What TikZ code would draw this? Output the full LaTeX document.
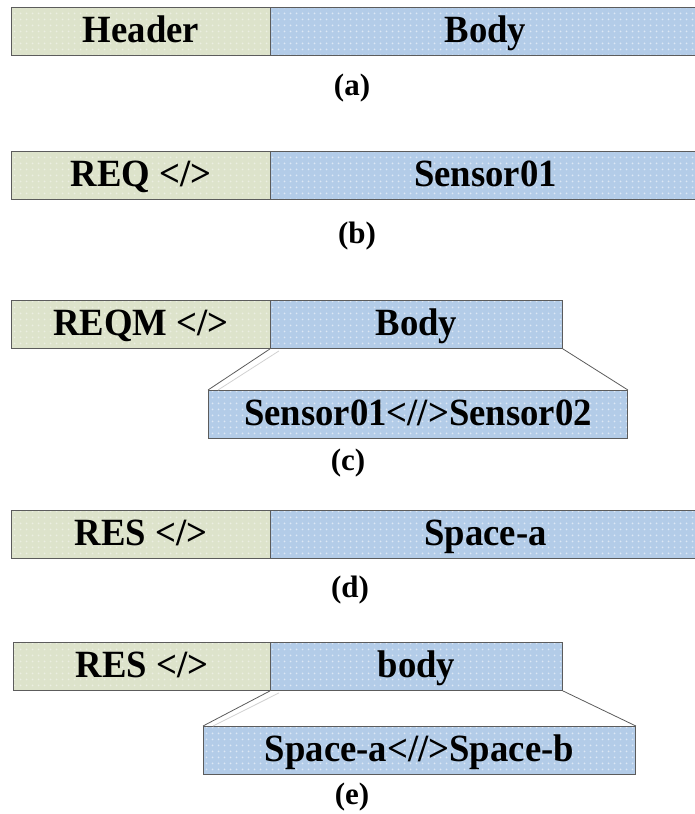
\documentclass[tikz,border=0pt]{standalone}
\usepackage{graphicx}
\usepackage{fontspec}
\setmainfont{Liberation Serif}
\usetikzlibrary{patterns.meta}

\definecolor{hdrfill}{HTML}{DDE3CB}
\definecolor{hdrdot}{HTML}{ECEFE2}
\definecolor{bodyfill}{HTML}{B3CCE8}
\definecolor{bodydot}{HTML}{DDE8F5}
\definecolor{edge}{HTML}{5C5C5C}

% small soft dot texture used inside the cells
\pgfdeclarepattern{name=softdots, type=uncolored,
  bottom left={\pgfpoint{0pt}{0pt}}, top right={\pgfpoint{6pt}{6pt}},
  tile size={\pgfpoint{6pt}{6pt}},
  code={\pgfpathcircle{\pgfpoint{3pt}{3pt}}{1.1pt}\pgfusepath{fill}}}

% slightly tall bold serif lettering
\newcommand\talltext[1]{\scalebox{1}[1.05]{#1}}
\newcommand\cellfont{\fontsize{36.7}{40}\selectfont\bfseries}
\newcommand\capfont{\fontsize{31}{34}\selectfont\bfseries}

\tikzset{
  cell/.style={draw=edge, line width=0.9pt, anchor=north west, inner sep=0pt,
    minimum height=48pt, font=\cellfont, text height=23pt, text depth=0pt},
  hdr/.style={cell, preaction={fill=hdrfill}, pattern=softdots, pattern color=hdrdot},
  bdy/.style={cell, preaction={fill=bodyfill}, pattern=softdots, pattern color=bodydot},
  caption/.style={font=\capfont, inner sep=0pt},
  zoomline/.style={draw=edge, line width=0.8pt},
  zoomshade/.style={draw=black!18, line width=0.8pt},
}

\begin{document}
\begin{tikzpicture}[x=1pt, y=-1pt]
  \useasboundingbox (0,0) rectangle (695,814);

  % (a) generic frame
  \node[hdr, minimum width=259pt] (aH) at (11,7)   {\talltext{Header}};
  \node[bdy, minimum width=430pt] (aB) at (270,7)  {\talltext{Body}};
  \node[caption] (aC) at (352,88) {(a)};

  % (b) single request
  \node[hdr, minimum width=259pt] (bH) at (11,151)  {\talltext{REQ </>}};
  \node[bdy, minimum width=430pt] (bB) at (270,151) {\talltext{Sensor01}};
  \node[caption] (bC) at (357,236) {(b)};

  % (c) multiple request with expanded body
  \node[hdr, minimum width=259pt] (cH) at (11,300)  {\talltext{REQM </>}};
  \node[bdy, minimum width=292pt] (cB) at (270,300) {\talltext{Body}};
  \node[bdy, minimum width=419pt] (cX) at (208,390) {\talltext{Sensor01<//>Sensor02}};
  \draw[zoomshade] ([xshift=9pt,yshift=-2pt]cB.south west) -- ([xshift=10pt]cX.north west);
  \draw[zoomline] (cB.south west) -- (cX.north west);
  \draw[zoomline] (cB.south east) -- (cX.north east);
  \node[caption] (cC) at (348,463) {(c)};

  % (d) single response
  \node[hdr, minimum width=259pt] (dH) at (11,510)  {\talltext{RES </>}};
  \node[bdy, minimum width=430pt] (dB) at (270,510) {\talltext{Space-a}};
  \node[caption] (dC) at (350,590) {(d)};

  % (e) multiple response with expanded body
  \node[hdr, minimum width=257pt] (eH) at (13,642)  {\talltext{RES </>}};
  \node[bdy, minimum width=292pt] (eB) at (270,642) {\talltext{body}};
  \node[bdy, minimum width=432pt] (eX) at (203,726) {\talltext{Space-a<//>Space-b}};
  \draw[zoomshade] ([xshift=9pt,yshift=-2pt]eB.south west) -- ([xshift=10pt]eX.north west);
  \draw[zoomline] (eB.south west) -- (eX.north west);
  \draw[zoomline] (eB.south east) -- (eX.north east);
  \node[caption] (eC) at (352,797) {(e)};
\end{tikzpicture}
\end{document}
